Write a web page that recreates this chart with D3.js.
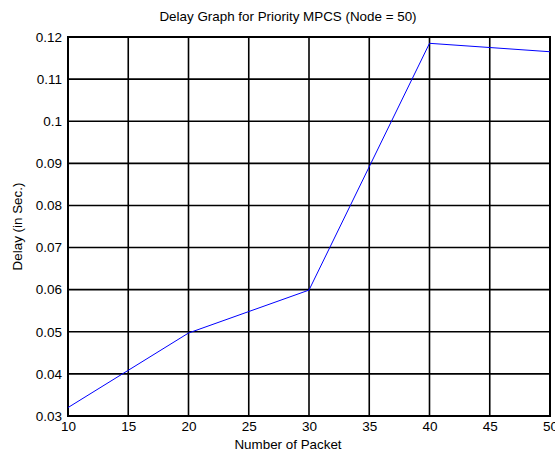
<!DOCTYPE html>
<html>
<head>
    <script src="https://d3js.org/d3.v7.min.js"></script>
    <style>
        body { margin: 0; background: #fff; }
        text { font-family: "Liberation Sans", Arial, sans-serif; fill: #000; }
        .tick text { font-size: 13.5px; }
    </style>
</head>
<body>
    <div id="graph"></div>
    <script>
        // data
        const packets = [10, 20, 30, 40, 50];
        const delays = [0.032, 0.0497, 0.0599, 0.1185, 0.1165];
        const xTicks = [10, 15, 20, 25, 30, 35, 40, 45, 50];
        const yTicks = [0.03, 0.04, 0.05, 0.06, 0.07, 0.08, 0.09, 0.1, 0.11, 0.12];

        const margin = { top: 37, right: 5, bottom: 36, left: 68 },
            width = 555 - margin.left - margin.right,
            height = 452 - margin.top - margin.bottom;

        // the original figure was cropped on the right, so titles sit left of the plot centre
        const labelCentre = 220;

        const x = d3.scaleLinear().domain([10, 50]).range([0, width]);
        const y = d3.scaleLinear().domain([0.03, 0.12]).range([height, 0]);

        const svg = d3.select("#graph").append("svg")
            .attr("width", 555)
            .attr("height", 452)
            .append("g")
            .attr("transform", "translate(" + margin.left + "," + margin.top + ")");

        // grid
        svg.append("g")
            .selectAll("line")
            .data(xTicks)
            .enter().append("line")
            .attr("x1", d => x(d)).attr("x2", d => x(d))
            .attr("y1", 0).attr("y2", height)
            .attr("stroke", "#000").attr("stroke-width", 1.6);

        svg.append("g")
            .selectAll("line")
            .data(yTicks)
            .enter().append("line")
            .attr("x1", 0).attr("x2", width)
            .attr("y1", d => y(d)).attr("y2", d => y(d))
            .attr("stroke", "#000").attr("stroke-width", 1.6);

        // axes
        const xAxis = svg.append("g")
            .attr("transform", "translate(0," + height + ")")
            .call(d3.axisBottom(x).tickValues(xTicks).tickSize(0).tickPadding(5).tickFormat(d3.format("d")));
        xAxis.select(".domain").remove();

        const yAxis = svg.append("g")
            .call(d3.axisLeft(y).tickValues(yTicks).tickSize(0).tickPadding(6).tickFormat(d => String(+d.toFixed(2))));
        yAxis.select(".domain").remove();

        // frame
        svg.append("rect")
            .attr("width", width).attr("height", height)
            .attr("fill", "none").attr("stroke", "#000").attr("stroke-width", 2);

        // series
        svg.append("path")
            .datum(packets.map((p, i) => [p, delays[i]]))
            .attr("fill", "none")
            .attr("stroke", "#0000ff")
            .attr("stroke-width", 1)
            .attr("d", d3.line().x(d => x(d[0])).y(d => y(d[1])));

        svg.append("text")
            .attr("x", labelCentre)
            .attr("y", -16)
            .attr("text-anchor", "middle")
            .attr("font-size", 13.4)
            .text("Delay Graph for Priority MPCS (Node = 50)");

        svg.append("text")
            .attr("x", labelCentre)
            .attr("y", height + 33)
            .attr("text-anchor", "middle")
            .attr("font-size", 13.4)
            .text("Number of Packet");

        svg.append("text")
            .attr("transform", "rotate(-90)")
            .attr("x", -height / 2)
            .attr("y", -46)
            .attr("text-anchor", "middle")
            .attr("font-size", 13.4)
            .text("Delay (in Sec.)");
    </script>
</body>
</html>
